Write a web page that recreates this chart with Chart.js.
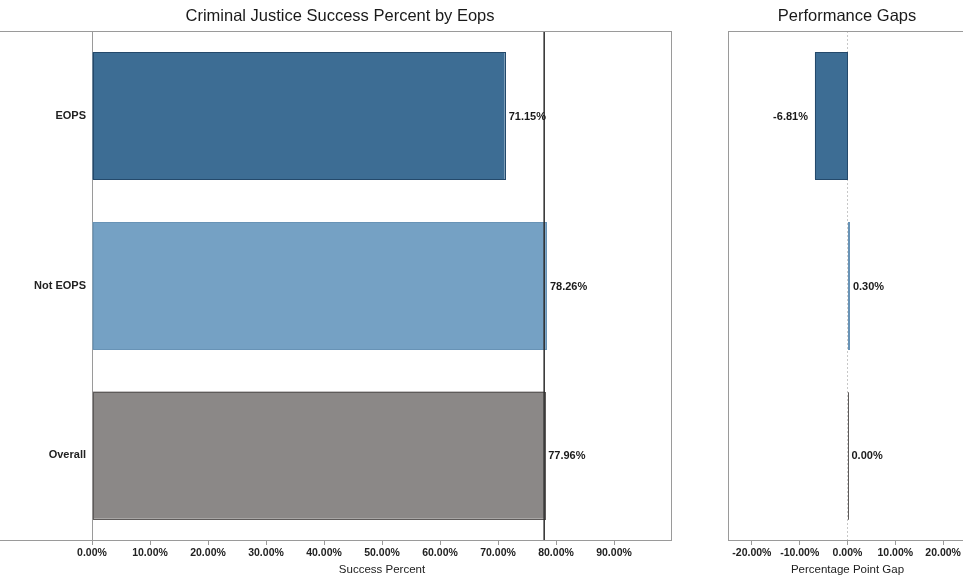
<!DOCTYPE html>
<html>
<head>
<meta charset="utf-8">
<script src="https://cdn.jsdelivr.net/npm/chart.js@4.4.1/dist/chart.umd.min.js"></script>
<style>
  html,body{margin:0;padding:0;background:#fff;overflow:hidden;width:963px;height:582px}
  canvas{position:absolute;top:0}
  #mainChart{left:0}
  #gapChart{left:700px}
</style>
</head>
<body>
<canvas id="mainChart" width="680" height="582"></canvas>
<canvas id="gapChart" width="294" height="582"></canvas>
<script>
// ── Success percent by EOPS + performance gaps ──
var categories = ['EOPS', 'Not EOPS', 'Overall'];
var successPct = [71.15, 78.26, 77.96];
var gapPct = [-6.81, 0.30, 0.00];
var successTicks = [0, 10, 20, 30, 40, 50, 60, 70, 80, 90];
var gapTicks = [-20, -10, 0, 10, 20];

var fills = ['#3d6d94', '#75a1c4', '#8b8887'];
var edges = ['#24496b', '#6893b6', '#5e5b5a'];
var FONT = "'Liberation Sans', Arial, sans-serif";

function pct(v){ return v.toFixed(2) + '%'; }

// title, frame lines, bar outlines and value labels
var decor = {
  id: 'decor',
  afterDatasetsDraw: function(chart, args, o){
    var ctx = chart.ctx, a = chart.chartArea;
    ctx.save();
    // bar outlines (zero-width bars still show as a line)
    chart.getDatasetMeta(0).data.forEach(function(bar, i){
      var p = bar.getProps(['x','y','base','height'], true);
      ctx.strokeStyle = edges[i];
      ctx.lineWidth = 1;
      var x0 = Math.min(p.x, p.base), w = Math.abs(p.x - p.base);
      ctx.strokeRect(Math.round(x0) + 0.5, Math.round(p.y - p.height/2) + 0.5, Math.round(w), Math.round(p.height));
    });
    // overall reference line
    if(o.refValue !== undefined){
      var rx = chart.scales.x.getPixelForValue(o.refValue);
      ctx.strokeStyle = '#2b2b2b'; ctx.lineWidth = 1.5;
      ctx.beginPath(); ctx.moveTo(rx, a.top); ctx.lineTo(rx, a.bottom); ctx.stroke();
    }
    // frame
    ctx.strokeStyle = '#9a9a9a'; ctx.lineWidth = 1;
    ctx.beginPath();
    ctx.moveTo(o.frameLeft, a.top + 0.5); ctx.lineTo(a.right, a.top + 0.5);
    ctx.moveTo(o.frameLeft, a.bottom + 0.5); ctx.lineTo(a.right, a.bottom + 0.5);
    ctx.moveTo(a.right - 0.5, a.top); ctx.lineTo(a.right - 0.5, a.bottom);
    ctx.stroke();
    // value labels
    ctx.font = 'bold 11px ' + FONT;
    ctx.fillStyle = '#1a1a1a';
    ctx.textBaseline = 'middle';
    chart.getDatasetMeta(0).data.forEach(function(bar, i){
      var v = chart.data.datasets[0].data[i];
      var neg = v < 0;
      ctx.textAlign = neg ? 'right' : 'left';
      ctx.fillText(pct(v), bar.x + (neg ? -7 : 4), bar.y + 1);
    });
    // title
    ctx.font = '16.5px ' + FONT;
    ctx.fillStyle = '#1a1a1a';
    ctx.textAlign = 'center';
    ctx.fillText(o.title, o.titleX, 16);
    ctx.restore();
  }
};

function barOptions(cfg){
  return {
    responsive: false,
    animation: false,
    indexAxis: 'y',
    devicePixelRatio: 1,
    layout: {padding: {top: 31, right: cfg.padRight, left: 0, bottom: 0}},
    plugins: {
      legend: {display: false},
      tooltip: {enabled: false},
      decor: {title: cfg.title, titleX: cfg.titleX, frameLeft: cfg.frameLeft, refValue: cfg.refValue}
    },
    scales: {
      x: {
        min: cfg.min, max: cfg.max,
        afterFit: function(s){ s.height = 42; },
        afterBuildTicks: function(s){ s.ticks = cfg.ticks.map(function(v){ return {value: v}; }); },
        ticks: {
          color: '#222', font: {family: FONT, size: 10.5, weight: 'bold'}, padding: 2, maxRotation: 0,
          callback: function(v){ return pct(v); }
        },
        grid: {
          display: true, drawOnChartArea: cfg.zeroGrid, tickLength: 5, tickColor: '#9a9a9a',
          color: function(c){ return c.tick && c.tick.value === 0 ? '#c8c8c8' : 'rgba(0,0,0,0)'; },
          lineWidth: 1
        },
        border: {display: false, dash: cfg.zeroGrid ? [2, 2] : []},
        title: {display: true, text: cfg.axisTitle, color: '#222', font: {family: FONT, size: 11.5}, padding: {top: 0, bottom: 5}}
      },
      y: {
        afterFit: function(s){ s.width = cfg.yWidth; },
        ticks: {display: cfg.yLabels, color: '#222', font: {family: FONT, size: 11, weight: 'bold'}, padding: 6},
        grid: {display: false, drawTicks: false},
        border: {display: true, color: '#9a9a9a', width: 1}
      }
    }
  };
}

new Chart(document.getElementById('mainChart'), {
  type: 'bar',
  data: {labels: categories, datasets: [{
    data: successPct, backgroundColor: fills, borderWidth: 0,
    categoryPercentage: 1, barPercentage: 0.75
  }]},
  options: barOptions({
    title: 'Criminal Justice Success Percent by Eops', titleX: 340, frameLeft: 0,
    padRight: 8, yWidth: 92, yLabels: true, min: 0, max: 100, ticks: successTicks,
    axisTitle: 'Success Percent', zeroGrid: false, refValue: successPct[2]
  }),
  plugins: [decor]
});

new Chart(document.getElementById('gapChart'), {
  type: 'bar',
  data: {labels: categories, datasets: [{
    data: gapPct, backgroundColor: fills, borderWidth: 0,
    categoryPercentage: 1, barPercentage: 0.75
  }]},
  options: barOptions({
    title: 'Performance Gaps', titleX: 147, frameLeft: 28,
    padRight: 27, yWidth: 28, yLabels: false, min: -25, max: 25, ticks: gapTicks,
    axisTitle: 'Percentage Point Gap', zeroGrid: true
  }),
  plugins: [decor]
});
</script>
</body>
</html>
